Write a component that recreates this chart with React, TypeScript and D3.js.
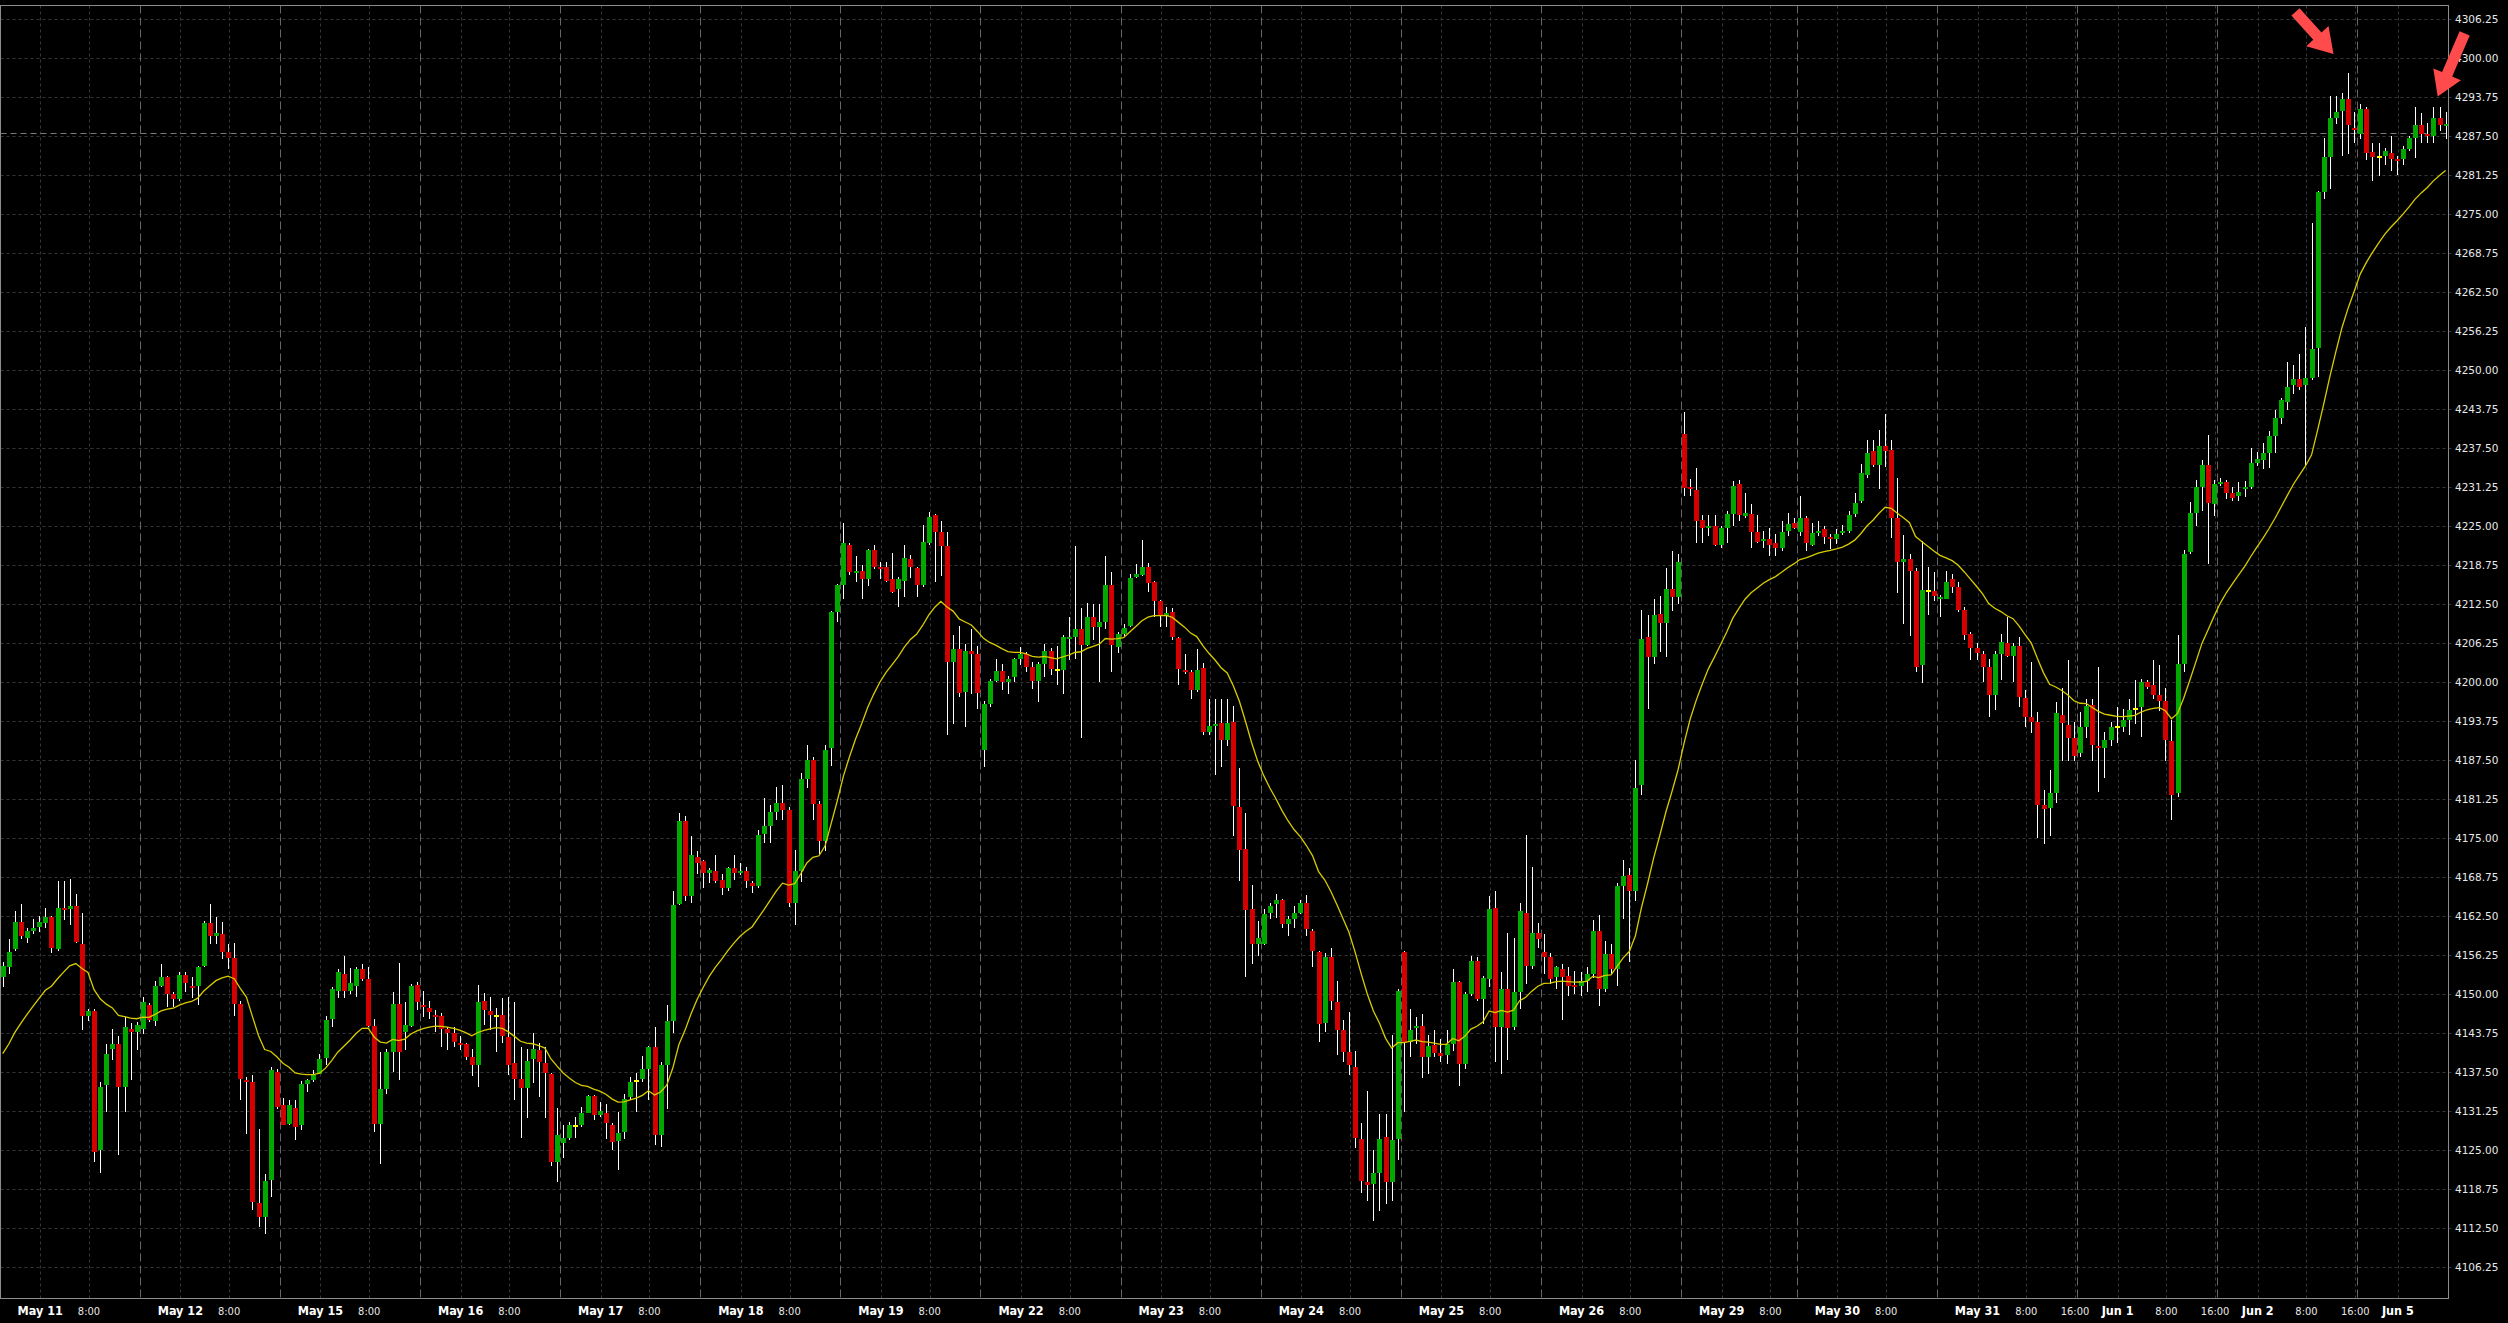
import React from "react";
import * as d3 from "d3";

const W = 2508;
const H = 1323;

// Trading sessions (CME style, 23 hourly bars, Memorial Day short, last one partial)
const sessionNames = ["May 11", "May 12", "May 15", "May 16", "May 17", "May 18", "May 19", "May 22", "May 23", "May 24", "May 25", "May 26", "May 29", "May 30", "May 31", "Jun 1", "Jun 2", "Jun 5"];
const sessionBars = [23, 23, 23, 23, 23, 23, 23, 23, 23, 23, 23, 23, 19, 23, 23, 23, 23, 15];
const sessionsWith16 = ["May 31", "Jun 1", "Jun 2"];

const priceTicks = [4106.25, 4112.5, 4118.75, 4125.0, 4131.25, 4137.5, 4143.75, 4150.0, 4156.25, 4162.5, 4168.75, 4175.0, 4181.25, 4187.5, 4193.75, 4200.0, 4206.25, 4212.5, 4218.75, 4225.0, 4231.25, 4237.5, 4243.75, 4250.0, 4256.25, 4262.5, 4268.75, 4275.0, 4281.25, 4287.5, 4293.75, 4300.0, 4306.25];

const open = [
  4152.7, 4154.4, 4157.2, 4161.6, 4159.1, 4160.2, 4160.8, 4161.5, 4162.4, 4157.2,
  4163.9, 4163.7, 4164.2, 4158.1, 4146.6, 4147.4, 4125.0, 4135.4, 4141.2, 4142.1,
  4135.2, 4144.4, 4143.9, 4144.4, 4148.3, 4145.7, 4151.3, 4152.7, 4150.0, 4149.2,
  4153.1, 4151.4, 4151.4, 4154.6, 4161.5, 4159.4, 4159.7, 4156.7, 4155.8, 4148.5,
  4136.3, 4135.9, 4116.5, 4114.3, 4120.2, 4137.6, 4132.2, 4129.2, 4131.8, 4129.1,
  4135.7, 4136.2, 4137.3, 4139.8, 4146.0, 4150.6, 4153.2, 4150.6, 4151.4, 4154.0,
  4152.4, 4145.0, 4129.2, 4134.9, 4140.7, 4148.4, 4143.9, 4145.0, 4151.5, 4148.3,
  4147.8, 4146.7, 4146.5, 4144.5, 4143.8, 4142.2, 4142.0, 4139.9, 4138.6, 4148.9,
  4147.4, 4146.6, 4146.7, 4143.1, 4139.0, 4136.4, 4135.0, 4139.6, 4141.1, 4139.0,
  4137.3, 4123.1, 4126.1, 4127.0, 4128.9, 4129.1, 4131.0, 4133.7, 4130.7, 4131.0,
  4129.1, 4126.5, 4128.0, 4133.6, 4136.1, 4136.4, 4138.0, 4141.6, 4127.5, 4138.7,
  4145.8, 4164.5, 4177.8, 4165.8, 4172.0, 4171.3, 4169.4, 4169.8, 4168.3, 4167.1,
  4170.2, 4169.6, 4169.7, 4167.9, 4167.3, 4175.7, 4177.0, 4179.2, 4180.7, 4179.5,
  4164.6, 4169.8, 4184.5, 4187.5, 4180.5, 4174.6, 4189.4, 4211.3, 4215.6, 4222.0,
  4217.6, 4217.9, 4216.6, 4221.2, 4218.5, 4218.4, 4216.6, 4214.9, 4216.3, 4219.7,
  4218.3, 4215.6, 4222.4, 4226.8, 4224.1, 4221.9, 4203.3, 4205.3, 4198.5, 4205.0,
  4204.5, 4189.1, 4196.5, 4200.2, 4201.8, 4200.1, 4200.9, 4203.7, 4204.6, 4202.5,
  4200.2, 4203.0, 4205.0, 4201.9, 4201.9, 4206.9, 4207.2, 4208.6, 4206.0, 4210.5,
  4208.8, 4209.6, 4215.6, 4205.6, 4207.7, 4209.1, 4216.8, 4217.2, 4218.5, 4216.1,
  4213.1, 4210.7, 4211.2, 4207.1, 4202.0, 4201.6, 4198.8, 4202.3, 4192.1, 4193.0,
  4193.4, 4190.7, 4193.7, 4180.0, 4173.3, 4163.6, 4158.0, 4158.0, 4163.0, 4164.4,
  4165.1, 4161.3, 4162.0, 4163.0, 4164.7, 4160.2, 4156.7, 4145.4, 4155.9, 4148.8,
  4144.2, 4140.8, 4138.4, 4126.8, 4119.9, 4119.6, 4121.3, 4127.1, 4119.9, 4126.8,
  4156.8, 4142.3, 4144.6, 4144.9, 4139.9, 4141.8, 4140.6, 4140.2, 4142.0, 4151.9,
  4138.9, 4150.1, 4155.4, 4149.2, 4152.4, 4163.9, 4144.7, 4150.8, 4144.7, 4150.4,
  4163.1, 4154.6, 4159.9, 4156.8, 4155.9, 4152.7, 4154.0, 4152.9, 4151.5, 4151.3,
  4152.2, 4153.2, 4160.2, 4150.8, 4156.4, 4154.0, 4167.3, 4169.1, 4166.5, 4183.5,
  4207.3, 4204.1, 4210.9, 4209.5, 4214.9, 4213.6, 4239.8, 4231.3, 4230.8, 4226.0,
  4224.8, 4225.1, 4222.0, 4224.8, 4227.0, 4231.8, 4226.6, 4227.0, 4224.1, 4222.7,
  4223.0, 4222.3, 4221.6, 4224.3, 4225.5, 4224.1, 4226.3, 4222.0, 4224.0, 4224.5,
  4223.3, 4222.9, 4223.9, 4224.3, 4226.9, 4229.1, 4233.2, 4237.1, 4234.8, 4237.8,
  4237.3, 4226.4, 4219.3, 4219.7, 4217.9, 4202.8, 4214.7, 4214.7, 4213.3, 4213.4,
  4216.5, 4215.2, 4211.6, 4207.8, 4205.5, 4204.6, 4202.5, 4197.9, 4204.6, 4206.3,
  4204.2, 4205.8, 4197.5, 4194.4, 4193.6, 4180.4, 4179.9, 4182.3, 4194.7, 4193.2,
  4191.1, 4188.6, 4192.9, 4196.4, 4189.8, 4189.5, 4190.8, 4192.9, 4192.9, 4193.9,
  4195.8, 4196.0, 4200.0, 4199.5, 4197.9, 4197.0, 4190.6, 4182.2, 4203.0, 4220.9,
  4227.2, 4231.3, 4234.8, 4228.6, 4231.7, 4232.1, 4230.3, 4229.9, 4230.9, 4231.3,
  4235.2, 4235.6, 4236.7, 4239.4, 4242.3, 4245.0, 4247.7, 4248.6, 4247.7, 4248.7,
  4253.6, 4278.5, 4284.2, 4290.4, 4291.6, 4293.4, 4288.9, 4287.9, 4291.9, 4285.0,
  4284.2, 4284.3, 4284.8, 4283.9, 4283.8, 4285.4, 4287.2, 4289.3, 4287.9, 4287.5,
  4290.5, 4289.1,
];

const high = [
  4155.1, 4158.9, 4163.4, 4164.4, 4160.7, 4162.0, 4162.6, 4163.8, 4162.6, 4168.2,
  4168.2, 4168.4, 4166.1, 4163.0, 4147.7, 4147.7, 4135.9, 4142.0, 4144.4, 4143.3,
  4146.3, 4145.4, 4145.5, 4149.5, 4148.6, 4152.2, 4154.9, 4153.0, 4150.3, 4153.5,
  4153.5, 4152.8, 4154.6, 4161.8, 4164.5, 4162.4, 4161.6, 4158.1, 4158.2, 4149.0,
  4136.7, 4137.0, 4128.4, 4121.2, 4138.4, 4138.0, 4133.4, 4133.1, 4133.1, 4136.1,
  4136.4, 4137.9, 4140.4, 4146.5, 4151.1, 4154.0, 4156.1, 4154.2, 4154.3, 4154.9,
  4154.3, 4146.0, 4140.7, 4141.3, 4150.3, 4155.0, 4148.7, 4151.7, 4152.0, 4150.5,
  4149.0, 4147.5, 4147.0, 4144.8, 4144.8, 4143.3, 4142.2, 4141.2, 4151.5, 4150.2,
  4149.6, 4147.8, 4149.4, 4149.6, 4148.8, 4141.6, 4141.2, 4143.8, 4142.2, 4141.6,
  4137.4, 4131.8, 4129.1, 4129.6, 4130.3, 4132.0, 4133.9, 4133.9, 4132.8, 4132.5,
  4129.3, 4131.2, 4134.1, 4136.8, 4137.4, 4140.1, 4141.7, 4144.8, 4139.1, 4148.3,
  4166.5, 4179.0, 4178.6, 4175.3, 4173.0, 4171.5, 4170.3, 4172.3, 4169.2, 4170.4,
  4172.3, 4171.0, 4170.4, 4168.1, 4176.3, 4181.4, 4180.3, 4183.3, 4183.5, 4180.0,
  4173.1, 4185.5, 4190.0, 4188.0, 4181.0, 4190.0, 4211.5, 4215.8, 4225.6, 4222.3,
  4220.3, 4218.8, 4221.4, 4222.0, 4219.3, 4219.3, 4220.7, 4216.8, 4222.0, 4220.4,
  4218.5, 4225.2, 4227.3, 4227.0, 4225.9, 4224.1, 4207.6, 4209.0, 4206.1, 4208.5,
  4205.8, 4197.0, 4200.6, 4203.7, 4203.0, 4201.0, 4203.9, 4205.7, 4204.9, 4203.3,
  4203.2, 4206.2, 4205.5, 4205.8, 4207.6, 4210.5, 4221.9, 4211.9, 4212.7, 4212.6,
  4212.6, 4220.2, 4217.6, 4208.0, 4209.4, 4217.4, 4219.0, 4222.8, 4219.1, 4216.3,
  4213.2, 4212.1, 4211.9, 4207.3, 4204.6, 4202.0, 4205.3, 4203.1, 4197.3, 4197.4,
  4197.3, 4197.3, 4196.2, 4186.2, 4179.1, 4167.5, 4161.7, 4163.6, 4164.6, 4166.0,
  4165.3, 4162.6, 4164.2, 4165.1, 4165.9, 4160.4, 4157.0, 4156.6, 4157.5, 4152.2,
  4145.9, 4147.1, 4140.9, 4129.3, 4134.5, 4125.1, 4130.8, 4130.8, 4143.5, 4150.8,
  4157.0, 4147.6, 4146.4, 4146.8, 4143.5, 4144.2, 4142.8, 4144.2, 4154.0, 4152.2,
  4150.4, 4156.1, 4155.9, 4152.9, 4165.8, 4166.5, 4153.5, 4159.9, 4159.1, 4164.6,
  4175.5, 4170.4, 4161.4, 4159.7, 4156.6, 4154.6, 4154.9, 4154.4, 4153.7, 4153.5,
  4154.4, 4161.9, 4162.7, 4158.5, 4158.0, 4167.9, 4171.5, 4170.2, 4187.5, 4211.6,
  4210.8, 4213.3, 4213.8, 4218.3, 4221.1, 4220.6, 4243.3, 4232.6, 4234.4, 4226.8,
  4226.8, 4226.8, 4225.0, 4227.4, 4232.3, 4232.5, 4230.4, 4228.6, 4226.8, 4224.3,
  4224.7, 4223.8, 4225.9, 4227.2, 4226.4, 4229.9, 4226.6, 4225.5, 4225.9, 4225.0,
  4223.8, 4224.5, 4225.2, 4227.4, 4230.4, 4235.0, 4238.9, 4238.9, 4240.5, 4243.0,
  4238.9, 4232.7, 4223.6, 4220.6, 4218.3, 4222.6, 4218.4, 4217.6, 4214.0, 4217.8,
  4217.3, 4216.1, 4212.0, 4208.0, 4206.3, 4205.0, 4203.7, 4205.0, 4207.8, 4210.4,
  4206.3, 4207.2, 4198.8, 4203.2, 4195.3, 4182.8, 4185.9, 4196.9, 4199.1, 4203.5,
  4193.6, 4195.2, 4197.3, 4197.3, 4202.4, 4192.1, 4193.6, 4196.0, 4195.7, 4197.3,
  4200.4, 4200.6, 4200.4, 4203.5, 4202.7, 4199.1, 4193.9, 4207.6, 4221.2, 4228.9,
  4232.4, 4235.6, 4239.7, 4232.4, 4232.7, 4232.5, 4231.3, 4232.1, 4232.2, 4237.5,
  4236.9, 4238.3, 4240.2, 4243.7, 4245.6, 4251.3, 4250.8, 4252.6, 4257.0, 4273.6,
  4278.8, 4287.2, 4294.0, 4294.0, 4294.5, 4297.6, 4291.4, 4292.6, 4292.2, 4286.5,
  4286.5, 4285.6, 4287.5, 4284.4, 4286.0, 4287.5, 4292.2, 4291.2, 4289.6, 4292.2,
  4292.2, 4291.4,
];

const low = [
  4151.2, 4153.3, 4157.0, 4158.8, 4158.3, 4159.6, 4160.0, 4160.7, 4156.6, 4156.9,
  4161.9, 4161.1, 4158.2, 4144.2, 4145.8, 4123.1, 4121.3, 4131.1, 4139.5, 4124.3,
  4131.1, 4136.2, 4141.0, 4143.7, 4145.5, 4145.0, 4151.1, 4147.9, 4147.9, 4149.0,
  4150.3, 4149.4, 4148.3, 4154.4, 4158.1, 4158.1, 4155.7, 4154.1, 4146.6, 4133.0,
  4127.6, 4115.4, 4112.7, 4111.6, 4117.5, 4131.6, 4129.0, 4129.0, 4126.7, 4128.3,
  4134.3, 4135.9, 4137.2, 4138.6, 4144.8, 4149.4, 4149.4, 4150.0, 4149.5, 4152.2,
  4144.7, 4128.0, 4122.8, 4134.0, 4137.5, 4136.3, 4141.0, 4144.7, 4147.5, 4146.4,
  4146.0, 4143.9, 4141.6, 4141.0, 4141.6, 4141.1, 4139.4, 4136.9, 4135.2, 4145.1,
  4144.2, 4140.7, 4142.2, 4137.0, 4133.1, 4126.9, 4130.2, 4135.8, 4133.6, 4130.2,
  4122.5, 4119.9, 4123.7, 4126.7, 4127.0, 4128.8, 4131.0, 4129.9, 4130.4, 4126.8,
  4125.1, 4121.9, 4126.8, 4133.1, 4131.2, 4135.9, 4133.1, 4125.9, 4125.6, 4131.6,
  4143.8, 4164.3, 4165.0, 4164.7, 4169.3, 4167.1, 4167.9, 4167.9, 4165.9, 4166.5,
  4168.3, 4169.1, 4167.1, 4166.2, 4167.0, 4174.2, 4174.2, 4177.9, 4177.9, 4164.0,
  4161.1, 4168.0, 4183.0, 4178.0, 4172.5, 4172.9, 4186.6, 4209.7, 4213.3, 4217.2,
  4216.1, 4213.4, 4215.4, 4218.2, 4216.6, 4216.1, 4214.3, 4212.0, 4213.7, 4216.7,
  4213.7, 4215.3, 4222.0, 4216.1, 4217.0, 4191.6, 4193.3, 4197.7, 4192.9, 4198.2,
  4195.7, 4186.5, 4196.1, 4200.0, 4198.7, 4198.1, 4200.1, 4202.8, 4201.6, 4199.0,
  4196.8, 4200.9, 4201.2, 4199.5, 4198.2, 4203.6, 4203.7, 4191.0, 4205.8, 4206.8,
  4200.1, 4208.5, 4201.7, 4204.7, 4207.4, 4208.9, 4216.7, 4217.0, 4214.4, 4210.4,
  4208.9, 4208.9, 4206.7, 4199.6, 4201.4, 4197.3, 4198.5, 4191.6, 4191.6, 4185.2,
  4186.5, 4189.8, 4175.3, 4168.2, 4152.7, 4154.9, 4156.1, 4157.9, 4162.0, 4162.2,
  4160.7, 4159.3, 4160.6, 4162.8, 4159.3, 4154.4, 4142.4, 4144.0, 4147.5, 4140.2,
  4139.1, 4137.0, 4125.3, 4118.1, 4116.9, 4113.7, 4115.2, 4116.4, 4116.9, 4123.5,
  4131.1, 4139.9, 4142.0, 4136.6, 4137.3, 4139.9, 4139.1, 4138.8, 4140.9, 4135.3,
  4138.0, 4149.7, 4149.0, 4145.3, 4151.1, 4139.1, 4137.3, 4139.5, 4144.2, 4147.6,
  4151.7, 4154.0, 4157.5, 4153.2, 4151.7, 4150.8, 4145.9, 4149.8, 4150.0, 4149.8,
  4150.4, 4152.6, 4148.1, 4150.4, 4153.3, 4151.3, 4162.0, 4155.1, 4164.9, 4182.0,
  4195.8, 4202.9, 4204.9, 4204.0, 4211.5, 4212.6, 4229.8, 4229.9, 4222.3, 4222.3,
  4223.5, 4221.8, 4221.5, 4222.4, 4225.0, 4225.9, 4226.3, 4221.5, 4222.3, 4221.5,
  4220.3, 4220.2, 4221.0, 4223.4, 4224.6, 4223.4, 4221.0, 4221.8, 4223.5, 4222.2,
  4221.3, 4222.2, 4223.6, 4223.9, 4226.5, 4228.8, 4232.7, 4234.5, 4230.9, 4234.5,
  4223.2, 4214.3, 4209.4, 4207.4, 4201.7, 4199.9, 4210.8, 4213.1, 4210.4, 4213.3,
  4214.3, 4211.2, 4206.7, 4203.5, 4203.5, 4200.0, 4194.4, 4195.5, 4200.4, 4204.0,
  4200.1, 4196.0, 4192.9, 4191.8, 4175.0, 4174.1, 4175.4, 4180.7, 4187.4, 4187.4,
  4187.4, 4188.0, 4191.1, 4187.4, 4182.5, 4184.7, 4189.8, 4190.3, 4192.1, 4191.6,
  4193.3, 4191.3, 4199.0, 4197.3, 4195.4, 4187.4, 4178.0, 4181.6, 4201.6, 4220.6,
  4225.1, 4227.4, 4218.9, 4226.6, 4231.4, 4229.3, 4229.0, 4229.0, 4229.7, 4231.0,
  4234.6, 4234.2, 4234.4, 4236.7, 4241.4, 4243.7, 4246.2, 4246.8, 4234.8, 4248.5,
  4249.0, 4277.5, 4279.0, 4289.5, 4284.4, 4284.6, 4286.4, 4287.0, 4283.7, 4280.3,
  4281.1, 4282.9, 4281.9, 4281.3, 4282.9, 4285.2, 4284.0, 4286.5, 4286.4, 4286.4,
  4288.3, 4287.0,
];

const close = [
  4154.6, 4156.8, 4161.6, 4159.4, 4160.2, 4160.7, 4161.6, 4162.4, 4157.5, 4163.9,
  4163.6, 4164.2, 4158.4, 4146.6, 4147.4, 4124.7, 4135.2, 4140.4, 4142.0, 4135.2,
  4144.7, 4143.9, 4145.1, 4148.7, 4145.9, 4151.3, 4152.8, 4150.1, 4149.3, 4153.1,
  4151.8, 4151.1, 4154.4, 4161.5, 4159.4, 4159.9, 4156.7, 4155.8, 4148.5, 4136.4,
  4136.1, 4116.7, 4114.3, 4120.1, 4137.9, 4131.9, 4129.1, 4132.2, 4128.7, 4135.6,
  4136.2, 4137.0, 4139.6, 4145.9, 4150.9, 4153.5, 4150.6, 4151.8, 4154.1, 4152.4,
  4145.0, 4129.2, 4134.9, 4140.7, 4148.4, 4140.7, 4145.1, 4151.4, 4148.8, 4147.9,
  4147.1, 4146.4, 4144.5, 4143.8, 4142.3, 4141.9, 4140.0, 4138.6, 4148.8, 4147.5,
  4146.7, 4146.6, 4143.3, 4138.7, 4136.4, 4135.0, 4139.3, 4141.2, 4139.1, 4137.4,
  4123.1, 4127.5, 4127.0, 4129.1, 4128.9, 4131.0, 4133.7, 4130.7, 4131.3, 4129.3,
  4126.3, 4127.7, 4133.2, 4136.0, 4136.1, 4138.0, 4141.6, 4127.5, 4138.7, 4145.8,
  4164.3, 4177.8, 4165.8, 4172.3, 4171.1, 4169.4, 4170.0, 4168.1, 4167.1, 4170.2,
  4169.4, 4169.8, 4168.1, 4167.3, 4175.5, 4177.0, 4179.2, 4180.7, 4179.5, 4164.6,
  4169.8, 4184.5, 4187.5, 4180.5, 4174.6, 4189.1, 4211.3, 4215.6, 4222.4, 4217.6,
  4217.9, 4216.6, 4221.2, 4218.5, 4218.1, 4216.2, 4214.5, 4216.6, 4220.0, 4218.5,
  4215.6, 4222.5, 4226.5, 4224.1, 4221.9, 4203.3, 4205.3, 4198.3, 4205.0, 4204.6,
  4198.3, 4196.5, 4200.2, 4201.8, 4200.1, 4200.5, 4203.7, 4204.6, 4202.5, 4200.2,
  4203.0, 4205.0, 4202.1, 4201.9, 4207.2, 4207.2, 4208.6, 4206.0, 4210.5, 4208.8,
  4209.6, 4215.6, 4205.9, 4207.7, 4208.7, 4216.7, 4217.4, 4218.5, 4215.9, 4213.1,
  4210.6, 4211.1, 4207.3, 4202.1, 4201.6, 4198.8, 4202.0, 4192.1, 4193.0, 4193.3,
  4190.7, 4193.4, 4180.1, 4173.2, 4163.5, 4158.0, 4159.0, 4162.9, 4164.2, 4165.1,
  4161.3, 4162.0, 4163.0, 4164.7, 4160.4, 4156.9, 4145.3, 4155.9, 4149.0, 4144.2,
  4140.8, 4138.6, 4127.0, 4120.1, 4119.5, 4121.3, 4126.8, 4119.9, 4126.6, 4150.5,
  4142.3, 4144.2, 4144.9, 4139.9, 4141.7, 4140.6, 4140.1, 4142.0, 4151.9, 4138.9,
  4150.1, 4155.4, 4149.2, 4152.6, 4163.6, 4144.7, 4150.8, 4144.6, 4150.4, 4163.4,
  4154.6, 4159.9, 4158.8, 4155.9, 4152.4, 4154.4, 4152.7, 4151.3, 4151.1, 4152.2,
  4153.2, 4160.2, 4150.8, 4156.4, 4154.0, 4167.3, 4168.9, 4166.5, 4183.1, 4207.0,
  4204.1, 4210.8, 4209.5, 4214.9, 4213.6, 4219.2, 4231.1, 4230.9, 4225.9, 4224.8,
  4225.1, 4222.0, 4224.8, 4227.0, 4231.5, 4226.8, 4227.2, 4224.1, 4222.5, 4223.0,
  4222.0, 4221.6, 4224.1, 4225.3, 4224.8, 4226.3, 4222.4, 4224.0, 4224.3, 4223.3,
  4222.9, 4223.8, 4224.3, 4226.8, 4228.8, 4233.5, 4236.8, 4234.8, 4237.8, 4237.1,
  4226.4, 4219.3, 4219.7, 4217.9, 4202.5, 4214.8, 4214.7, 4213.9, 4213.6, 4216.1,
  4215.3, 4211.6, 4207.6, 4205.5, 4204.7, 4202.5, 4197.9, 4204.6, 4206.4, 4204.2,
  4205.8, 4197.6, 4194.4, 4193.6, 4180.4, 4179.7, 4182.3, 4195.1, 4193.4, 4191.1,
  4188.2, 4192.9, 4196.2, 4190.0, 4189.4, 4190.8, 4192.9, 4192.9, 4193.9, 4195.6,
  4195.8, 4200.0, 4199.3, 4197.9, 4197.0, 4190.8, 4182.0, 4203.0, 4220.6, 4227.2,
  4231.3, 4234.8, 4228.8, 4231.7, 4232.1, 4230.4, 4229.5, 4230.5, 4231.3, 4235.2,
  4235.8, 4236.7, 4239.4, 4242.3, 4245.2, 4247.3, 4248.6, 4247.4, 4248.7, 4253.4,
  4278.5, 4284.2, 4290.4, 4291.4, 4293.4, 4289.3, 4288.5, 4291.9, 4284.8, 4284.2,
  4284.2, 4285.2, 4283.8, 4283.5, 4285.4, 4287.2, 4289.3, 4287.9, 4287.5, 4290.5,
  4289.3, 4289.5,
];

const maPeriod = 20;
const maSeed = 4139.0;
const bidPrice = 4288.1;

// annotation arrows: tip in data coords, tail offset in pixels
const arrowTips = [
  { index: 382.6, price: 4300.7, dx: -38, dy: -42 },
  { index: 399.7, price: 4293.9, dx: 27, dy: -63 },
];

const COLORS = {
  bg: "#000000",
  up: "#00A800",
  down: "#D40000",
  doji: "#FFFF00",
  wick: "#FFFFFF",
  ma: "#D8CC00",
  grid: "#363636",
  sep: "#666666",
  frame: "#8C8C8C",
  text: "#E8E8E8",
  arrow: "#FF4B4B",
};

const condensed = "'DejaVu Sans Condensed', 'DejaVu Sans', sans-serif";

export default function App() {
  const n = close.length;
  const plotL = 0.5, plotR = 2448.5, plotT = 5.5, plotB = 1298.5;

  const x = d3.scaleLinear().domain([0, n - 1]).range([2.7, 2445.6]);
  const y = d3.scaleLinear().domain([4106.25, 4306.25]).range([1267.3, 19.3]);

  // EMA of closes
  const alpha = 2 / (maPeriod + 1);
  const ema: number[] = [];
  let prev = maSeed;
  for (let i = 0; i < n; i++) {
    prev = prev + alpha * (close[i] - prev);
    ema.push(prev);
  }
  const maLine = d3.line<number>().x((_, i) => x(i)).y((d) => y(d)).curve(d3.curveLinear)(ema) || "";

  // sessions
  const sessions: { name: string; start: number; len: number }[] = [];
  let s0 = 0;
  sessionNames.forEach((name, k) => {
    sessions.push({ name, start: s0, len: sessionBars[k] });
    s0 += sessionBars[k];
  });

  const labels: { idx: number; text: string; bold: boolean }[] = [];
  sessions.forEach((s) => {
    labels.push({ idx: s.start + 6, text: s.name, bold: true });
    if (s.start + 14 < n - 1) labels.push({ idx: s.start + 14, text: "8:00", bold: false });
    if (sessionsWith16.includes(s.name)) labels.push({ idx: s.start + 22, text: "16:00", bold: false });
  });

  const sepXs = sessions.slice(1).map((s) => Math.round(x(s.start) - 3.05) + 0.5);
  const labelXs = labels.map((l) => Math.round(x(l.idx) + 1) + 0.5);

  const arrowPath = (tx: number, ty: number, dx: number, dy: number) => {
    const len = Math.hypot(dx, dy);
    const ux = -dx / len, uy = -dy / len;
    const px = -uy, py = ux;
    const headL = 24, headW = 15, shaftW = 5.5;
    const bx = tx - ux * headL, by = ty - uy * headL;
    const ex = tx + dx, ey = ty + dy;
    const pts = [
      [tx, ty],
      [bx + px * headW, by + py * headW],
      [bx + px * shaftW, by + py * shaftW],
      [ex + px * shaftW, ey + py * shaftW],
      [ex - px * shaftW, ey - py * shaftW],
      [bx - px * shaftW, by - py * shaftW],
      [bx - px * headW, by - py * headW],
    ];
    return "M" + pts.map((p) => p[0].toFixed(1) + "," + p[1].toFixed(1)).join("L") + "Z";
  };

  return (
    <div style={{ position: "fixed", left: 0, top: 0, width: W, height: H, background: COLORS.bg }}>
      <svg width={W} height={H} style={{ display: "block", background: COLORS.bg }} fontFamily="'DejaVu Sans', Verdana, sans-serif">
        <rect x={0} y={0} width={W} height={H} fill={COLORS.bg} />
        {/* horizontal grid */}
        {priceTicks.map((p) => {
          const yy = Math.round(y(p)) + 0.5;
          return <line key={"h" + p} x1={plotL} x2={plotR + 4} y1={yy} y2={yy} stroke={COLORS.grid} strokeWidth={1} strokeDasharray="3,3" />;
        })}
        {/* vertical grid at labels */}
        {labelXs.map((xx, k) => (
          <line key={"vl" + k} x1={xx} x2={xx} y1={plotT} y2={plotB} stroke={COLORS.grid} strokeWidth={1} strokeDasharray="3,3" />
        ))}
        {/* session separators */}
        {sepXs.map((xx, k) => (
          <line key={"vs" + k} x1={xx} x2={xx} y1={plotT} y2={plotB} stroke={COLORS.sep} strokeWidth={1} strokeDasharray="8,4" />
        ))}
        {/* bid line */}
        <line x1={plotL} x2={plotR} y1={Math.round(y(bidPrice)) + 0.5} y2={Math.round(y(bidPrice)) + 0.5} stroke="#7A7A7A" strokeWidth={1} strokeDasharray="6,4" />

        {/* candles */}
        {close.map((c, i) => {
          const o = open[i];
          const cx = Math.round(x(i));
          const yh = Math.round(y(high[i]));
          const yl = Math.round(y(low[i]));
          const yTop = Math.round(y(Math.max(o, c)));
          const yBot = Math.round(y(Math.min(o, c)));
          const doji = o === c;
          const col = doji ? COLORS.doji : c > o ? COLORS.up : COLORS.down;
          return (
            <g key={"c" + i}>
              <rect x={cx} y={yh} width={1} height={Math.max(1, yl - yh)} fill={COLORS.wick} />
              <rect x={cx - 2} y={doji ? yTop - 1 : yTop} width={5} height={doji ? 2 : Math.max(2, yBot - yTop)} fill={col} />
            </g>
          );
        })}

        {/* moving average */}
        <path d={maLine} fill="none" stroke={COLORS.ma} strokeWidth={1.3} />

        {/* frame */}
        <rect x={plotL} y={plotT} width={plotR - plotL} height={plotB - plotT} fill="none" stroke={COLORS.frame} strokeWidth={1} />

        {/* right axis labels */}
        {priceTicks.map((p) => (
          <text key={"t" + p} x={2455} y={Math.round(y(p)) + 4} fontSize={10.5} fill={COLORS.text}>
            {p.toFixed(2)}
          </text>
        ))}

        {/* bottom labels */}
        {labels.map((l, k) => (
          <text key={"b" + k} x={x(l.idx) + 1} y={1315} fontFamily={condensed} fontSize={l.bold ? 12.5 : 11} fontWeight={l.bold ? "bold" : "normal"} fill={l.bold ? "#FFFFFF" : COLORS.text} textAnchor="middle">
            {l.text}
          </text>
        ))}

        {/* arrows */}
        {arrowTips.map((a, k) => (
          <path key={"a" + k} d={arrowPath(x(a.index), y(a.price), a.dx, a.dy)} fill={COLORS.arrow} />
        ))}
      </svg>
    </div>
  );
}
